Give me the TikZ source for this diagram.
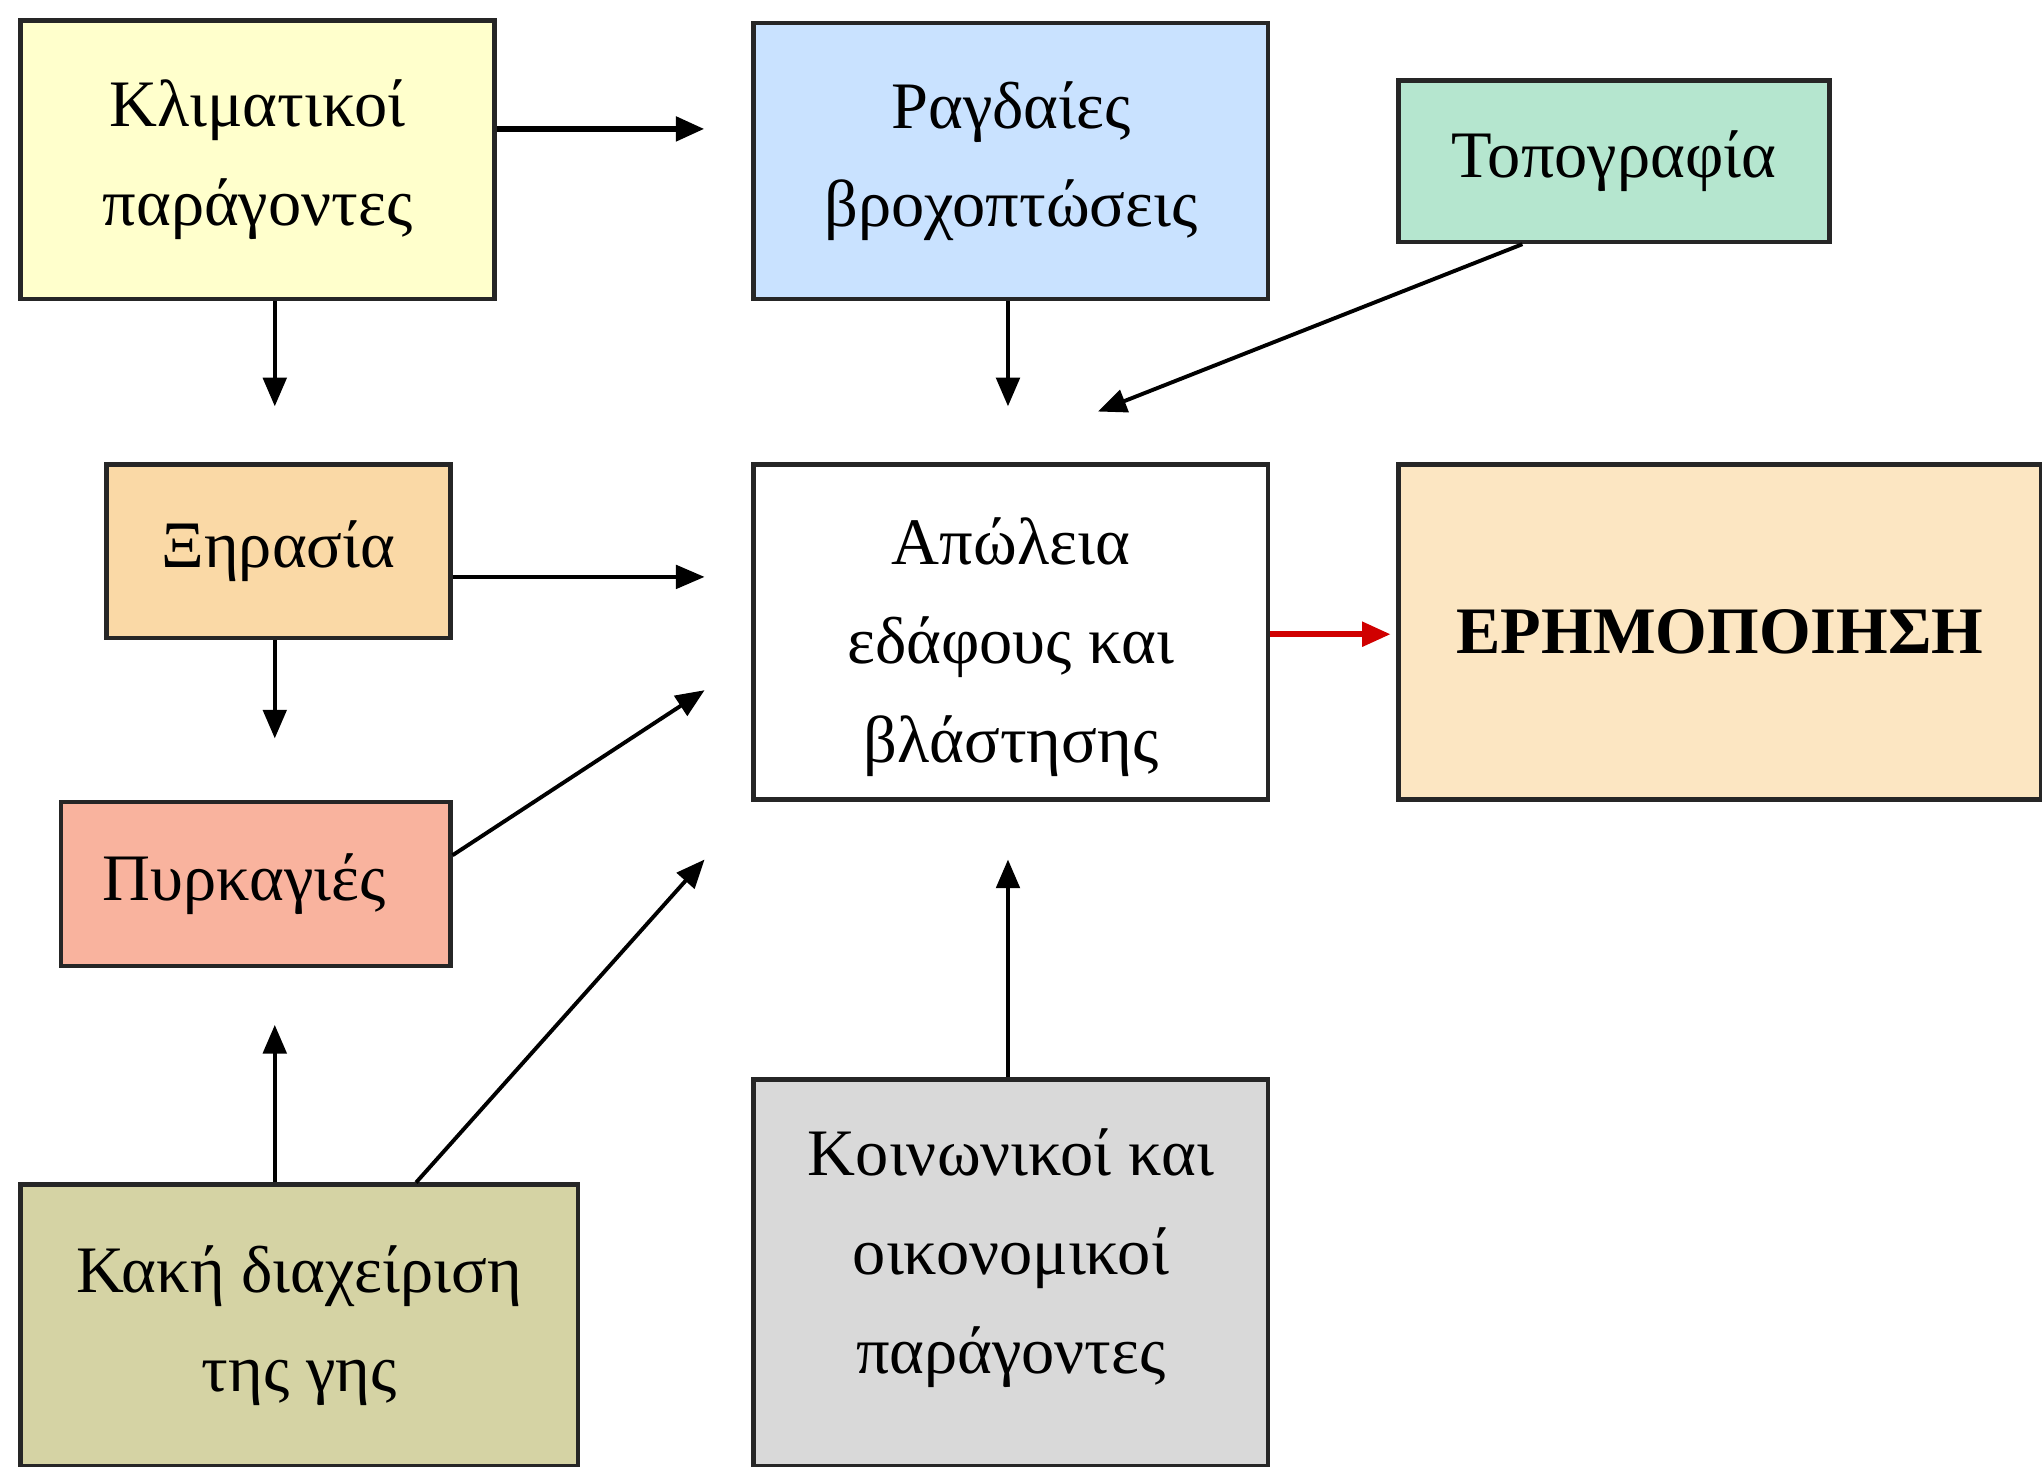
\documentclass[tikz,border=0pt]{standalone}
\usepackage{fontspec}
\setmainfont{Liberation Serif}
\usetikzlibrary{arrows.meta,calc}
\definecolor{climY}{HTML}{FFFFCC}
\definecolor{rainB}{HTML}{C9E2FF}
\definecolor{topoG}{HTML}{B5E6CF}
\definecolor{dryT}{HTML}{FAD9A6}
\definecolor{desW}{HTML}{FCE6C2}
\definecolor{fireS}{HTML}{F9B39E}
\definecolor{landK}{HTML}{D5D3A4}
\definecolor{socG}{HTML}{D9D9D9}
\definecolor{redA}{HTML}{D00000}
\begin{document}
\begin{tikzpicture}[x=1pt,y=-1pt,
  box/.style={draw=black!85, line width=3.5pt, rectangle, inner sep=0pt,
    anchor=north west, align=center, font=\fontsize{51}{76}\selectfont},
  arr/.style={draw=black, line width=3pt, -{Triangle[length=22pt,width=18pt]}},
]
\useasboundingbox (0,0) rectangle (1568,1126);
\fill[white] (0,0) rectangle (1568,1126);

% boxes
\node[box, fill=climY, minimum width=364pt, minimum height=214pt] (klim) at (14,14) {Κλιματικοί\\παράγοντες};
\node[box, fill=rainB, minimum width=395pt, minimum height=212pt] (rain) at (577,16) {Ραγδαίες\\βροχοπτώσεις};
\node[box, fill=topoG, minimum width=331pt, minimum height=124pt] (topo) at (1072,60) {Τοπογραφία};
\node[box, fill=dryT, minimum width=264pt, minimum height=133pt] (dry) at (80,355) {Ξηρασία};
\node[box, fill=white, minimum width=395pt, minimum height=257pt] (loss) at (577,355) {\parbox{380pt}{\centering\vspace*{24pt}Απώλεια\\εδάφους και\\βλάστησης}};
\node[box, fill=desW, minimum width=494pt, minimum height=257pt] (des) at (1072,355) {\textbf{ΕΡΗΜΟΠΟΙΗΣΗ}};
\node[box, fill=fireS, minimum width=299pt, minimum height=126pt] (fire) at (45,614) {\hspace*{-18pt}Πυρκαγιές};
\node[box, fill=landK, minimum width=428pt, minimum height=216pt] (land) at (14,908) {Κακή διαχείριση\\της γης};
\node[box, fill=socG, minimum width=395pt, minimum height=297pt] (soc) at (577,827) {\parbox{380pt}{\centering Κοινωνικοί και\\οικονομικοί\\παράγοντες\par\vspace*{22pt}}};

% free ends of the connectors
\coordinate (e1) at (541,99);
\coordinate (e2) at (211,312);
\coordinate (e3) at (774,312);
\coordinate (e4) at (843,316);
\coordinate (e5) at (541,443);
\coordinate (e6) at (211,567);
\coordinate (e7) at (541,530);
\coordinate (e8) at (541,660);
\coordinate (e9) at (211,787);
\coordinate (e10) at (774,660);
\coordinate (e11) at (1068,487);

% connectors
\draw[arr, line width=5pt] (klim.east |- e1) -- (e1);
\draw[arr] (klim.south -| e2) -- (e2);
\draw[arr] (rain.south -| e3) -- (e3);
\draw[arr] ($(topo.south west)!0.29!(topo.south east)$) -- (e4);
\draw[arr] (dry.east |- e5) -- (e5);
\draw[arr] (dry.south -| e6) -- (e6);
\draw[arr] ($(fire.north east)!0.33!(fire.south east)$) -- (e7);
\draw[arr] ($(land.north west)!0.708!(land.north east)$) -- (e8);
\draw[arr] (land.north -| e9) -- (e9);
\draw[arr] (soc.north -| e10) -- (e10);
\draw[draw=redA, line width=5pt, -{Triangle[length=22pt,width=18pt]}] (loss.east |- e11) -- (e11);
\end{tikzpicture}
\end{document}
